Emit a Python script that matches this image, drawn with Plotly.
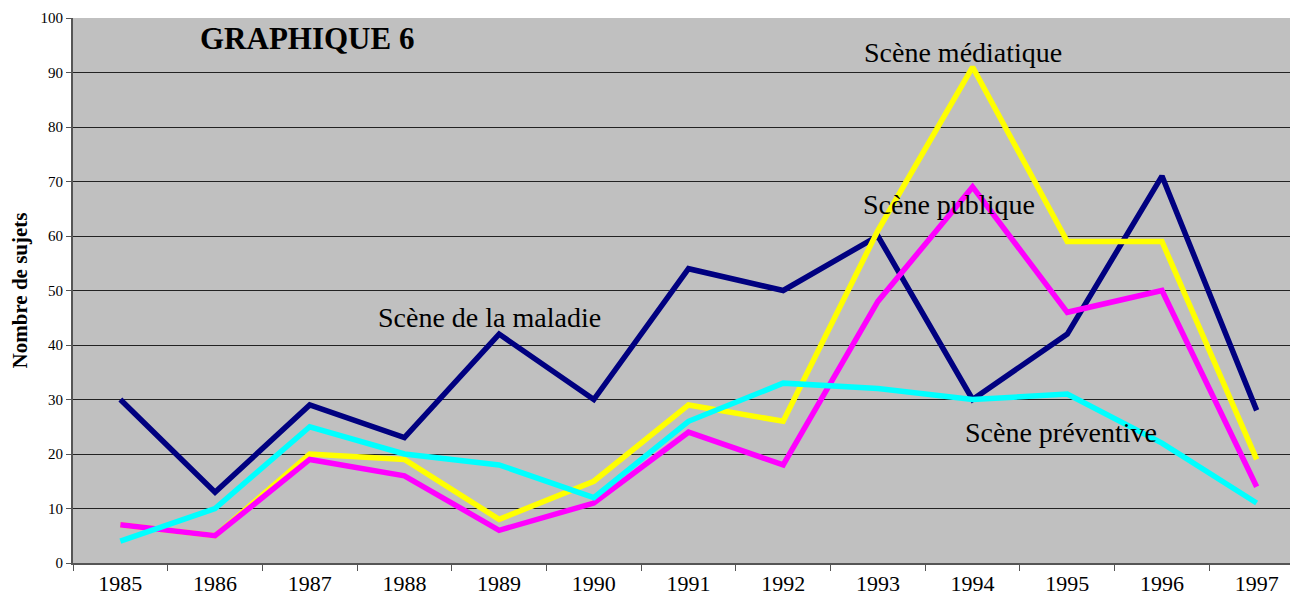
import plotly.graph_objects as go

years = ["1985", "1986", "1987", "1988", "1989", "1990", "1991",
         "1992", "1993", "1994", "1995", "1996", "1997"]
maladie = [30, 13, 29, 23, 42, 30, 54, 50, 60, 30, 42, 71, 28]
mediatique = [7, 5, 20, 19, 8, 15, 29, 26, 61, 91, 59, 59, 19]
publique = [7, 5, 19, 16, 6, 11, 24, 18, 48, 69, 46, 50, 14]
preventive = [4, 10, 25, 20, 18, 12, 26, 33, 32, 30, 31, 22, 11]

fig = go.Figure()
for vals, col in [(maladie, "#000080"), (mediatique, "#FFFF00"),
                  (publique, "#FF00FF"), (preventive, "#00FFFF")]:
    fig.add_trace(go.Scatter(x=years, y=vals, mode="lines",
                             line=dict(color=col, width=5.5), showlegend=False))

serif = "Liberation Serif"
labels = [
    ("<b>GRAPHIQUE 6</b>", 0.190, 0.963, 31),
    ("Scène médiatique", 0.723, 0.936, 28),
    ("Scène publique", 0.712, 0.657, 28),
    ("Scène de la maladie", 0.338, 0.451, 28),
    ("Scène préventive", 0.803, 0.240, 28),
]
for txt, x, y, s in labels:
    fig.add_annotation(text=txt, x=x, y=y, xref="paper", yref="paper",
                       xanchor="center", yanchor="middle", showarrow=False,
                       font=dict(family=serif, size=s, color="black"))

# page body adds ~8px offset, margins compensate
fig.update_layout(
    width=1298, height=596,
    margin=dict(l=65, r=2, t=10, b=41),
    paper_bgcolor="white", plot_bgcolor="#C0C0C0",
    font=dict(family=serif, color="black"),
)
fig.update_xaxes(type="category", tickson="boundaries", ticks="outside", ticklen=6,
                 tickcolor="#555", showline=True, linecolor="#555", linewidth=2,
                 showgrid=False, tickfont=dict(family=serif, size=22, color="black"),
                 range=[-0.5, 12.5], automargin=False)
fig.update_yaxes(range=[0, 100], dtick=10, ticks="outside", ticklen=5,
                 tickcolor="#555", showline=True, linecolor="#555", linewidth=2,
                 gridcolor="#222", gridwidth=1,
                 tickfont=dict(family=serif, size=15, color="black"),
                 zeroline=False, automargin=False,
                 title=dict(text="<b>Nombre de sujets</b>",
                            font=dict(family=serif, size=21), standoff=16))

fig.write_html("out.html")
